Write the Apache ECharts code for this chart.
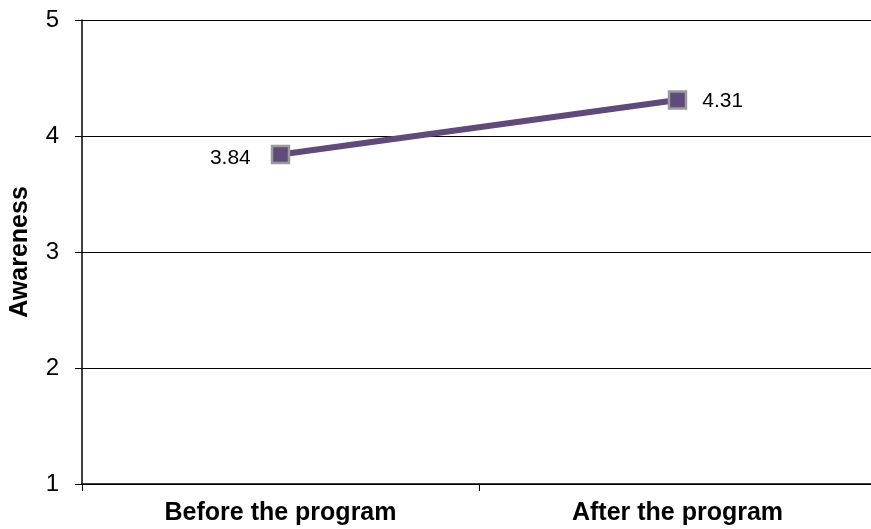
<!DOCTYPE html>
<html>
<head>
<meta charset="utf-8">
<script src="https://cdn.jsdelivr.net/npm/echarts@6/dist/echarts.min.js"></script>
<style>
  html, body { margin: 0; padding: 0; background: #fff; }
  #chart { width: 871px; height: 529px; }
</style>
</head>
<body>
<div id="chart"></div>
<script>
// awareness before / after
var categories = ['Before the program', 'After the program'];
var awareness = [3.84, 4.31];
var labelPos = ['left', 'right'];

var chartDom = document.getElementById('chart');
var myChart = echarts.init(chartDom);

var font = 'Liberation Sans, Arial, sans-serif';

var option = {
    animation: false,
    grid: {
        left: 82,
        top: 20,
        width: 794,
        bottom: 45,
        outerBoundsMode: 'none'
    },
    xAxis: {
        type: 'category',
        data: categories,
        boundaryGap: true,
        axisLine: { lineStyle: { color: '#000', width: 1.5 } },
        axisTick: { show: true, length: 7, lineStyle: { color: '#000' } },
        axisLabel: {
            margin: 17,
            color: '#000',
            fontFamily: font,
            fontSize: 25,
            fontWeight: 'bold'
        }
    },
    yAxis: {
        type: 'value',
        min: 1,
        max: 5,
        interval: 1,
        name: 'Awareness',
        nameLocation: 'middle',
        nameGap: 49,
        nameTextStyle: {
            color: '#000',
            fontFamily: font,
            fontSize: 25,
            fontWeight: 'bold'
        },
        axisLine: { show: true, lineStyle: { color: '#000', width: 1.5 } },
        axisTick: { show: true, length: 7, lineStyle: { color: '#000' } },
        axisLabel: {
            margin: 23,
            color: '#000',
            fontFamily: font,
            fontSize: 24
        },
        splitLine: { show: true, lineStyle: { color: '#000', width: 1 } }
    },
    series: [{
        type: 'line',
        data: awareness.map(function (v, i) {
            return {
                value: v,
                label: { position: labelPos[i], distance: i === 0 ? 20 : 15, offset: i === 0 ? [0, 4] : [0, 1] }
            };
        }),
        symbol: 'rect',
        symbolSize: 17,
        lineStyle: { color: '#604a7b', width: 6 },
        itemStyle: { color: '#604a7b', borderColor: '#9a9a9a', borderWidth: 2.5 },
        label: {
            show: true,
            color: '#000',
            fontFamily: font,
            fontSize: 21
        }
    }]
};

myChart.setOption(option);
</script>
</body>
</html>
